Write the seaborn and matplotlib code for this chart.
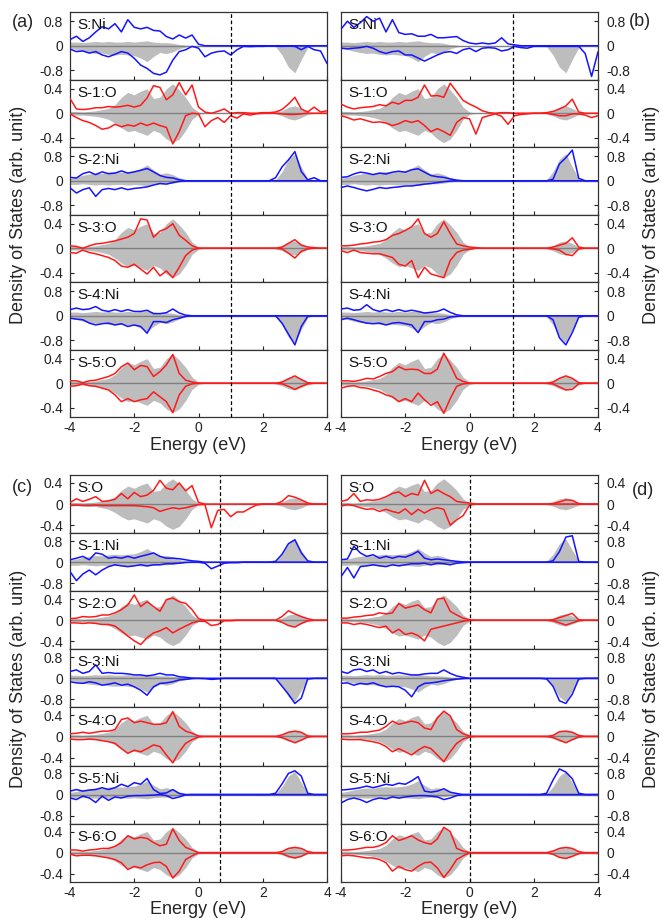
import numpy as np
import matplotlib
matplotlib.use("Agg")
import matplotlib.pyplot as plt
import seaborn as sns

# energy grid (eV), 0.2 eV steps from -4 to 4
energy = np.linspace(-4.0, 4.0, 41)

# grey reference (bulk) curves, down-spin given as magnitudes
o_bulk_up = [0.03, 0.03, 0.02, 0.03, 0.04, 0.06, 0.08, 0.14, 0.26, 0.34, 0.30,
             0.36, 0.40, 0.24, 0.26, 0.40, 0.48, 0.38, 0.26, 0.10, 0.02,
             0, 0, 0, 0, 0, 0, 0, 0, 0, 0,
             0, 0.01, 0.04, 0.10, 0.12, 0.08, 0.02, 0, 0, 0]
o_bulk_dn = [0.03, 0.03, 0.03, 0.04, 0.05, 0.07, 0.10, 0.16, 0.24, 0.30, 0.28,
             0.32, 0.36, 0.28, 0.32, 0.42, 0.48, 0.42, 0.28, 0.10, 0.02,
             0, 0, 0, 0, 0, 0, 0, 0, 0, 0,
             0, 0.01, 0.04, 0.09, 0.11, 0.07, 0.02, 0, 0, 0]
ni_bulk_maj = [0.08, 0.12, 0.18, 0.22, 0.25, 0.24, 0.28, 0.30, 0.28, 0.30, 0.32,
               0.40, 0.52, 0.35, 0.22, 0.26, 0.20, 0.10, 0.04, 0.01, 0,
               0, 0, 0, 0, 0, 0, 0, 0, 0, 0,
               0, 0.03, 0.30, 0.70, 0.88, 0.45, 0.06, 0, 0, 0]
ni_bulk_min = [0.12, 0.12, 0.10, 0.12, 0.14, 0.12, 0.14, 0.12, 0.12, 0.14, 0.12,
               0.14, 0.16, 0.12, 0.10, 0.10, 0.08, 0.04, 0.02, 0, 0,
               0, 0, 0, 0, 0, 0, 0, 0, 0, 0,
               0, 0, 0, 0, 0, 0, 0, 0, 0, 0]

# ---- panel (a) ----
a_s_ni_up = [0.20, 0.31, 0.14, 0.26, 0.45, 0.62, 0.55, 0.72, 0.45, 0.85, 0.60,
             0.55, 0.60, 0.50, 0.48, 0.30, 0.22, 0.35, 0.25, 0.35, 0.05,
             0, 0, 0, 0, 0, 0, 0, 0, 0, 0,
             0, 0, 0, 0, 0, 0, 0, 0, 0, 0]
a_s_ni_dn = [0.11, 0.19, 0.17, 0.24, 0.19, 0.30, 0.36, 0.28, 0.19, 0.24, 0.41,
             0.63, 0.74, 0.90, 0.95, 0.86, 0.47, 0.19, 0.13, 0.02, 0.08,
             0.36, 0.24, 0.19, 0.17, 0.30, 0.13, 0.02, 0.03, 0.02, 0.02,
             0.01, 0.01, 0.02, 0.01, 0.02, 0.13, 0.02, 0.13, 0.17, 0.58]
a_s1_o_up = [0.24, 0.07, 0.06, 0.07, 0.09, 0.09, 0.11, 0.10, 0.11, 0.13, 0.10,
             0.13, 0.25, 0.45, 0.42, 0.22, 0.30, 0.50, 0.30, 0.46, 0.10,
             0.02, 0.00, 0.03, 0.07, 0.00, 0.01, 0.01, 0.00, 0.00, 0.01,
             0.01, 0.02, 0.06, 0.15, 0.26, 0.07, 0.02, 0.10, 0.02, 0.04]
a_s1_o_dn = [0.01, 0.07, 0.12, 0.15, 0.20, 0.26, 0.24, 0.18, 0.22, 0.19, 0.21,
             0.16, 0.20, 0.16, 0.20, 0.23, 0.50, 0.30, 0.04, 0.00, 0.01,
             0.22, 0.12, 0.07, 0.15, 0.04, 0.08, 0.01, 0.03, 0.01, 0.00,
             0.00, 0.00, 0.01, 0.02, 0.02, 0.01, 0.00, 0.00, 0.00, 0.00]
a_s2_ni_up = [0.11, 0.09, 0.23, 0.29, 0.20, 0.29, 0.23, 0.25, 0.32, 0.25, 0.29,
              0.34, 0.40, 0.29, 0.17, 0.11, 0.09, 0.03, 0, 0, 0,
              0, 0, 0, 0, 0, 0, 0, 0, 0, 0,
              0, 0.10, 0.45, 0.68, 0.95, 0.30, 0.03, 0.10, 0, 0]
a_s2_ni_dn = [0.23, 0.40, 0.29, 0.23, 0.51, 0.29, 0.25, 0.29, 0.23, 0.29, 0.25,
              0.23, 0.20, 0.14, 0.09, 0.11, 0.06, 0.02, 0, 0, 0,
              0, 0, 0, 0, 0, 0, 0, 0, 0, 0,
              0, 0, 0, 0, 0, 0, 0, 0, 0, 0]
a_s3_o_up = [0.04, 0.03, 0.00, 0.04, 0.07, 0.08, 0.10, 0.12, 0.15, 0.18, 0.24,
             0.48, 0.46, 0.18, 0.28, 0.32, 0.40, 0.21, 0.13, 0.04, 0,
             0, 0, 0, 0, 0, 0, 0, 0, 0, 0,
             0, 0, 0.02, 0.08, 0.14, 0.05, 0.02, 0.01, 0, 0]
a_s3_o_dn = [0.07, 0.08, 0.03, 0.07, 0.09, 0.12, 0.15, 0.20, 0.29, 0.31, 0.26,
             0.34, 0.42, 0.31, 0.45, 0.37, 0.48, 0.31, 0.12, 0.03, 0,
             0, 0, 0, 0, 0, 0, 0, 0, 0, 0,
             0, 0, 0.01, 0.08, 0.16, 0.05, 0.01, 0, 0, 0]
a_s4_ni_up = [0.20, 0.25, 0.20, 0.22, 0.30, 0.18, 0.14, 0.20, 0.14, 0.20, 0.14,
              0.14, 0.18, 0.07, 0.07, 0.10, 0.22, 0.09, 0.02, 0, 0,
              0, 0, 0, 0, 0, 0, 0, 0, 0, 0,
              0, 0, 0, 0, 0, 0, 0, 0, 0, 0]
a_s4_ni_dn = [0.08, 0.11, 0.13, 0.24, 0.30, 0.26, 0.24, 0.30, 0.26, 0.35, 0.30,
              0.35, 0.57, 0.19, 0.19, 0.22, 0.13, 0.08, 0.02, 0, 0,
              0, 0, 0, 0, 0, 0, 0, 0, 0, 0,
              0, 0, 0.24, 0.60, 0.95, 0.35, 0.02, 0, 0, 0]
a_s5_o_up = [0.04, 0.04, 0.01, 0.04, 0.05, 0.08, 0.11, 0.16, 0.27, 0.33, 0.22,
             0.29, 0.27, 0.11, 0.19, 0.30, 0.47, 0.16, 0.05, 0.02, 0,
             0, 0, 0, 0, 0, 0, 0, 0, 0, 0,
             0, 0, 0.02, 0.07, 0.12, 0.06, 0.01, 0, 0, 0]
a_s5_o_dn = [0.05, 0.04, 0.01, 0.04, 0.05, 0.08, 0.11, 0.19, 0.30, 0.25, 0.30,
             0.27, 0.25, 0.14, 0.22, 0.30, 0.48, 0.19, 0.05, 0.01, 0,
             0, 0, 0, 0, 0, 0, 0, 0, 0, 0,
             0, 0, 0.01, 0.05, 0.10, 0.05, 0.01, 0, 0, 0]

# ---- panel (b) ----
b_s_ni_up = [0.54, 0.80, 0.60, 0.75, 0.95, 0.80, 0.90, 0.45, 0.85, 0.43, 0.37,
             0.39, 0.31, 0.31, 0.37, 0.26, 0.26, 0.28, 0.30, 0.17, 0.09,
             0.06, 0.09, 0.06, 0.09, 0.26, 0.06, 0.03, 0, 0, 0,
             0, 0, 0, 0, 0, 0, 0, 0, 0, 0]
b_s_ni_dn = [0.08, 0.10, 0.08, 0.06, 0.02, 0.08, 0.19, 0.25, 0.19, 0.17, 0.30,
             0.30, 0.40, 0.50, 0.40, 0.30, 0.22, 0.19, 0.25, 0.13, 0.08,
             0.19, 0.08, 0.06, 0.08, 0.17, 0.13, 0.02, 0.06, 0.08, 0.02,
             0.02, 0.02, 0.02, 0.02, 0.02, 0.02, 0.02, 0.25, 1.00, 0.20]
b_s1_o_up = [0.15, 0.10, 0.07, 0.09, 0.10, 0.11, 0.14, 0.12, 0.18, 0.15, 0.21,
             0.21, 0.26, 0.46, 0.28, 0.29, 0.26, 0.49, 0.35, 0.21, 0.15,
             0.10, 0.04, 0.01, 0, 0.01, 0.01, 0, 0, 0, 0,
             0, 0.01, 0.03, 0.07, 0.12, 0.23, 0.02, 0, 0, 0]
b_s1_o_dn = [0.04, 0.07, 0.11, 0.09, 0.12, 0.15, 0.14, 0.16, 0.20, 0.17, 0.12,
             0.15, 0.12, 0.20, 0.30, 0.25, 0.30, 0.36, 0.15, 0.07, 0.09,
             0.34, 0.07, 0.04, 0.01, 0.05, 0.18, 0.04, 0.02, 0.01, 0,
             0, 0, 0.02, 0.04, 0.04, 0.01, 0.01, 0.03, 0.07, 0.04]
b_s2_ni_up = [0.11, 0.13, 0.22, 0.28, 0.25, 0.20, 0.25, 0.22, 0.28, 0.31, 0.28,
              0.36, 0.39, 0.28, 0.17, 0.13, 0.11, 0.06, 0.02, 0, 0,
              0, 0, 0, 0, 0, 0, 0, 0, 0, 0,
              0, 0, 0.05, 0.55, 0.75, 1.00, 0.08, 0, 0, 0]
b_s2_ni_dn = [0.22, 0.17, 0.22, 0.28, 0.33, 0.28, 0.22, 0.25, 0.22, 0.20, 0.17,
              0.17, 0.14, 0.11, 0.09, 0.06, 0.03, 0.01, 0, 0, 0,
              0, 0, 0, 0, 0, 0, 0, 0, 0, 0,
              0, 0, 0, 0, 0, 0, 0, 0, 0, 0]
b_s3_o_up = [0.04, 0.04, 0.05, 0.07, 0.08, 0.10, 0.11, 0.14, 0.21, 0.24, 0.29,
             0.35, 0.48, 0.24, 0.18, 0.24, 0.43, 0.24, 0.07, 0.04, 0.02,
             0.01, 0, 0, 0, 0, 0, 0, 0, 0, 0,
             0, 0, 0.02, 0.05, 0.08, 0.17, 0.02, 0, 0, 0]
b_s3_o_dn = [0.04, 0.07, 0.03, 0.07, 0.08, 0.09, 0.09, 0.12, 0.15, 0.26, 0.29,
             0.20, 0.48, 0.31, 0.42, 0.45, 0.48, 0.20, 0.07, 0.03, 0.02,
             0, 0, 0, 0, 0, 0, 0, 0, 0, 0,
             0, 0, 0.01, 0.03, 0.10, 0.12, 0.01, 0, 0, 0]
b_s4_ni_up = [0.22, 0.25, 0.18, 0.20, 0.36, 0.20, 0.14, 0.20, 0.14, 0.20, 0.14,
              0.18, 0.14, 0.09, 0.11, 0.14, 0.22, 0.11, 0.03, 0, 0,
              0, 0, 0, 0, 0, 0, 0, 0, 0, 0,
              0, 0, 0, 0, 0, 0, 0, 0, 0, 0]
b_s4_ni_dn = [0.13, 0.08, 0.13, 0.19, 0.24, 0.26, 0.24, 0.30, 0.24, 0.22, 0.26,
              0.30, 0.55, 0.19, 0.19, 0.13, 0.11, 0.04, 0.02, 0, 0,
              0, 0, 0, 0, 0, 0, 0, 0, 0, 0,
              0, 0, 0.13, 0.72, 0.95, 0.55, 0.05, 0, 0, 0]
b_s5_o_up = [0.04, 0.04, 0.03, 0.05, 0.08, 0.07, 0.11, 0.16, 0.19, 0.27, 0.22,
             0.23, 0.22, 0.16, 0.16, 0.23, 0.49, 0.30, 0.08, 0.03, 0,
             0, 0, 0, 0, 0, 0, 0, 0, 0, 0,
             0, 0, 0.02, 0.08, 0.12, 0.08, 0.01, 0, 0, 0]
b_s5_o_dn = [0.08, 0.05, 0.04, 0.07, 0.08, 0.11, 0.14, 0.19, 0.22, 0.30, 0.25,
             0.30, 0.16, 0.27, 0.36, 0.30, 0.49, 0.25, 0.05, 0.01, 0,
             0, 0, 0, 0, 0, 0, 0, 0, 0, 0,
             0, 0, 0.01, 0.06, 0.11, 0.10, 0.01, 0, 0, 0]

# ---- panel (c) ----
c_s_o_up = [0.03, 0.10, 0.05, 0.09, 0.14, 0.05, 0.06, 0.09, 0.20, 0.10, 0.22,
            0.14, 0.17, 0.26, 0.45, 0.30, 0.27, 0.40, 0.25, 0.35, 0.03,
            0, 0, 0, 0, 0, 0, 0, 0, 0, 0,
            0, 0, 0.05, 0.16, 0.13, 0.08, 0.02, 0, 0, 0]
c_s_o_dn = [0.03, 0.02, 0.03, 0.03, 0.02, 0.03, 0.03, 0.03, 0.03, 0.03, 0.03,
            0.04, 0.05, 0.07, 0.14, 0.10, 0.07, 0.09, 0.07, 0.04, 0.01,
            0.01, 0.45, 0.12, 0.10, 0.24, 0.15, 0.15, 0.08, 0.02, 0,
            0, 0, 0, 0, 0, 0, 0, 0, 0, 0]
c_s1_ni_up = [0.09, 0.15, 0.22, 0.09, 0.35, 0.30, 0.15, 0.19, 0.15, 0.22, 0.15,
              0.22, 0.28, 0.35, 0.22, 0.15, 0.15, 0.13, 0.09, 0.05, 0.03,
              0, 0, 0, 0, 0, 0, 0, 0, 0, 0,
              0, 0.03, 0.30, 0.70, 0.85, 0.35, 0.05, 0, 0, 0]
c_s1_ni_dn = [0.36, 0.70, 0.45, 0.30, 0.48, 0.30, 0.17, 0.10, 0.14, 0.17, 0.14,
              0.10, 0.14, 0.10, 0.10, 0.06, 0.06, 0.04, 0.01, 0, 0,
              0.04, 0.25, 0.15, 0.04, 0.02, 0.02, 0, 0, 0, 0,
              0, 0, 0, 0, 0, 0, 0, 0, 0, 0]
c_s2_o_up = [0.03, 0.04, 0.07, 0.06, 0.07, 0.10, 0.10, 0.14, 0.20, 0.29, 0.48,
             0.26, 0.35, 0.26, 0.17, 0.39, 0.42, 0.35, 0.32, 0.20, 0.03,
             0, 0, 0, 0, 0, 0, 0, 0, 0, 0,
             0, 0, 0.07, 0.18, 0.12, 0.07, 0.03, 0, 0, 0]
c_s2_o_dn = [0.05, 0.05, 0.06, 0.05, 0.06, 0.08, 0.08, 0.11, 0.20, 0.30, 0.39,
             0.46, 0.33, 0.24, 0.20, 0.14, 0.24, 0.17, 0.11, 0.05, 0.02,
             0.02, 0.10, 0.08, 0.01, 0.01, 0, 0, 0, 0, 0,
             0, 0, 0.04, 0.10, 0.13, 0.06, 0.01, 0, 0, 0]
c_s3_ni_up = [0.26, 0.32, 0.19, 0.26, 0.51, 0.19, 0.22, 0.19, 0.19, 0.17, 0.13,
              0.13, 0.09, 0.13, 0.19, 0.13, 0.13, 0.06, 0.04, 0.01, 0,
              0, 0, 0, 0, 0, 0, 0, 0, 0, 0,
              0, 0, 0, 0, 0, 0, 0, 0, 0, 0]
c_s3_ni_dn = [0.13, 0.17, 0.19, 0.13, 0.17, 0.26, 0.22, 0.17, 0.26, 0.22, 0.32,
              0.45, 0.64, 0.32, 0.19, 0.17, 0.13, 0.06, 0.04, 0.01, 0,
              0.01, 0.04, 0.02, 0, 0, 0, 0, 0, 0, 0,
              0, 0, 0.30, 0.60, 0.95, 0.75, 0.02, 0, 0, 0]
c_s4_o_up = [0.05, 0.06, 0.08, 0.06, 0.08, 0.10, 0.10, 0.13, 0.32, 0.35, 0.26,
             0.29, 0.26, 0.23, 0.23, 0.26, 0.47, 0.19, 0.10, 0.06, 0.01,
             0, 0, 0, 0, 0, 0, 0, 0, 0, 0,
             0, 0, 0.03, 0.08, 0.10, 0.08, 0.01, 0, 0, 0]
c_s4_o_dn = [0.05, 0.06, 0.06, 0.05, 0.06, 0.08, 0.10, 0.13, 0.23, 0.32, 0.26,
             0.29, 0.23, 0.16, 0.19, 0.35, 0.50, 0.29, 0.13, 0.06, 0.01,
             0, 0, 0, 0, 0, 0, 0, 0, 0, 0,
             0, 0, 0.02, 0.07, 0.12, 0.07, 0.01, 0, 0, 0]
c_s5_ni_up = [0.13, 0.19, 0.13, 0.17, 0.19, 0.26, 0.19, 0.26, 0.39, 0.30, 0.45,
              0.39, 0.61, 0.19, 0.04, 0.06, 0.19, 0.04, 0, 0, 0,
              0, 0, 0, 0, 0, 0, 0, 0, 0, 0,
              0, 0.05, 0.40, 0.80, 0.90, 0.70, 0.05, 0, 0, 0]
c_s5_ni_dn = [0.13, 0.19, 0.06, 0.13, 0.30, 0.06, 0.22, 0.09, 0.13, 0.06, 0.04,
              0.04, 0.03, 0.02, 0, 0.04, 0.15, 0.09, 0.01, 0, 0,
              0, 0, 0, 0, 0, 0, 0, 0, 0, 0,
              0, 0, 0, 0, 0, 0, 0, 0, 0, 0]
c_s6_o_up = [0.05, 0.05, 0.03, 0.05, 0.06, 0.08, 0.08, 0.12, 0.19, 0.32, 0.26,
             0.29, 0.27, 0.19, 0.13, 0.16, 0.45, 0.23, 0.10, 0.05, 0,
             0, 0, 0, 0, 0, 0, 0, 0, 0, 0,
             0, 0, 0.02, 0.08, 0.10, 0.08, 0.02, 0, 0, 0]
c_s6_o_dn = [0.03, 0.06, 0.05, 0.05, 0.06, 0.08, 0.10, 0.13, 0.19, 0.32, 0.26,
             0.29, 0.23, 0.19, 0.18, 0.26, 0.48, 0.35, 0.13, 0.06, 0,
             0, 0, 0, 0, 0, 0, 0, 0, 0, 0,
             0, 0, 0.02, 0.07, 0.10, 0.07, 0.01, 0, 0, 0]

# ---- panel (d) ----
d_s_o_up = [0.05, 0.08, 0.20, 0.05, 0.08, 0.07, 0.09, 0.14, 0.20, 0.23, 0.14,
            0.20, 0.17, 0.45, 0.20, 0.27, 0.20, 0.14, 0.05, 0.03, 0.02,
            0, 0, 0, 0, 0, 0, 0, 0, 0, 0,
            0, 0, 0.01, 0.04, 0.08, 0.07, 0.01, 0, 0, 0]
d_s_o_dn = [0.04, 0.01, 0.03, 0.07, 0.10, 0.09, 0.14, 0.10, 0.14, 0.17, 0.09,
            0.20, 0.10, 0.17, 0.10, 0.07, 0.10, 0.40, 0.30, 0.22, 0.02,
            0, 0, 0, 0, 0, 0, 0, 0, 0, 0,
            0, 0, 0, 0, 0, 0, 0, 0, 0, 0]
d_s1_ni_up = [0.09, 0.12, 0.60, 0.35, 0.22, 0.28, 0.15, 0.22, 0.15, 0.22, 0.19,
              0.28, 0.41, 0.15, 0.09, 0.12, 0.09, 0.06, 0.03, 0.01, 0,
              0, 0, 0, 0, 0, 0, 0, 0, 0, 0,
              0, 0, 0.05, 0.40, 0.95, 1.00, 0.03, 0, 0, 0]
d_s1_ni_dn = [0.55, 0.20, 0.60, 0.17, 0.14, 0.10, 0.14, 0.17, 0.10, 0.14, 0.10,
              0.06, 0.06, 0.04, 0.10, 0.04, 0.06, 0.10, 0.04, 0.02, 0,
              0, 0, 0, 0, 0, 0, 0, 0, 0, 0,
              0, 0, 0, 0, 0, 0, 0, 0, 0, 0]
d_s2_o_up = [0.04, 0.04, 0.06, 0.07, 0.09, 0.10, 0.14, 0.12, 0.14, 0.32, 0.23,
             0.26, 0.29, 0.20, 0.14, 0.40, 0.42, 0.17, 0.10, 0.04, 0.01,
             0, 0, 0, 0, 0, 0, 0, 0, 0, 0,
             0, 0, 0.01, 0.05, 0.09, 0.13, 0.01, 0, 0, 0]
d_s2_o_dn = [0.05, 0.05, 0.08, 0.06, 0.08, 0.11, 0.14, 0.11, 0.24, 0.17, 0.27,
             0.24, 0.29, 0.39, 0.17, 0.14, 0.11, 0.08, 0.05, 0.02, 0,
             0, 0, 0, 0, 0, 0, 0, 0, 0, 0,
             0, 0, 0.01, 0.05, 0.09, 0.05, 0.01, 0, 0, 0]
d_s3_ni_up = [0.26, 0.19, 0.32, 0.35, 0.26, 0.32, 0.19, 0.26, 0.17, 0.22, 0.17,
              0.13, 0.13, 0.17, 0.19, 0.19, 0.32, 0.19, 0.09, 0.04, 0,
              0, 0, 0, 0, 0, 0, 0, 0, 0, 0,
              0, 0, 0, 0, 0, 0, 0, 0, 0, 0]
d_s3_ni_dn = [0.19, 0.17, 0.26, 0.19, 0.22, 0.17, 0.26, 0.32, 0.30, 0.32, 0.45,
              0.70, 0.32, 0.19, 0.17, 0.14, 0.09, 0.06, 0.03, 0.01, 0,
              0, 0, 0, 0, 0, 0, 0, 0, 0, 0,
              0, 0.02, 0.30, 0.85, 0.95, 0.60, 0.02, 0, 0, 0]
d_s4_o_up = [0.05, 0.05, 0.06, 0.08, 0.08, 0.10, 0.12, 0.19, 0.29, 0.23, 0.26,
             0.29, 0.26, 0.16, 0.13, 0.35, 0.48, 0.39, 0.13, 0.05, 0.01,
             0, 0, 0, 0, 0, 0, 0, 0, 0, 0,
             0, 0, 0.02, 0.09, 0.10, 0.08, 0.02, 0, 0, 0]
d_s4_o_dn = [0.05, 0.06, 0.06, 0.06, 0.08, 0.10, 0.13, 0.19, 0.29, 0.23, 0.29,
             0.35, 0.26, 0.19, 0.23, 0.35, 0.48, 0.29, 0.13, 0.05, 0.01,
             0, 0, 0, 0, 0, 0, 0, 0, 0, 0,
             0, 0, 0.02, 0.07, 0.12, 0.06, 0.01, 0, 0, 0]
d_s5_ni_up = [0.17, 0.19, 0.22, 0.26, 0.32, 0.26, 0.32, 0.39, 0.35, 0.43, 0.39,
              0.52, 0.68, 0.13, 0.09, 0.13, 0.22, 0.09, 0.04, 0, 0,
              0, 0, 0, 0, 0, 0, 0, 0, 0, 0,
              0, 0.05, 0.55, 0.97, 0.85, 0.60, 0.05, 0, 0, 0]
d_s5_ni_dn = [0.32, 0.19, 0.13, 0.19, 0.30, 0.19, 0.13, 0.17, 0.09, 0.13, 0.09,
              0.06, 0.04, 0.04, 0.06, 0.09, 0.19, 0.13, 0.04, 0, 0,
              0, 0, 0, 0, 0, 0, 0, 0, 0, 0,
              0, 0, 0, 0, 0, 0, 0, 0, 0, 0]
d_s6_o_up = [0.05, 0.05, 0.06, 0.08, 0.10, 0.10, 0.13, 0.19, 0.32, 0.23, 0.27,
             0.32, 0.24, 0.19, 0.16, 0.26, 0.48, 0.40, 0.08, 0.03, 0,
             0, 0, 0, 0, 0, 0, 0, 0, 0, 0,
             0, 0, 0.03, 0.08, 0.10, 0.08, 0.02, 0, 0, 0]
d_s6_o_dn = [0.06, 0.05, 0.06, 0.08, 0.10, 0.10, 0.13, 0.19, 0.35, 0.26, 0.32,
             0.35, 0.26, 0.19, 0.18, 0.29, 0.47, 0.32, 0.13, 0.06, 0,
             0, 0, 0, 0, 0, 0, 0, 0, 0, 0,
             0, 0, 0.03, 0.09, 0.11, 0.07, 0.02, 0, 0, 0]

# Fermi level positions (dashed lines)
fermi_a, fermi_b, fermi_c, fermi_d = 1.0, 1.36, 0.68, 0.0

rows_a = [("S:Ni", "ni-", a_s_ni_up, a_s_ni_dn), ("S-1:O", "o", a_s1_o_up, a_s1_o_dn),
          ("S-2:Ni", "ni+", a_s2_ni_up, a_s2_ni_dn), ("S-3:O", "o", a_s3_o_up, a_s3_o_dn),
          ("S-4:Ni", "ni-", a_s4_ni_up, a_s4_ni_dn), ("S-5:O", "o", a_s5_o_up, a_s5_o_dn)]
rows_b = [("S:Ni", "ni-", b_s_ni_up, b_s_ni_dn), ("S-1:O", "o", b_s1_o_up, b_s1_o_dn),
          ("S-2:Ni", "ni+", b_s2_ni_up, b_s2_ni_dn), ("S-3:O", "o", b_s3_o_up, b_s3_o_dn),
          ("S-4:Ni", "ni-", b_s4_ni_up, b_s4_ni_dn), ("S-5:O", "o", b_s5_o_up, b_s5_o_dn)]
rows_c = [("S:O", "o", c_s_o_up, c_s_o_dn), ("S-1:Ni", "ni+", c_s1_ni_up, c_s1_ni_dn),
          ("S-2:O", "o", c_s2_o_up, c_s2_o_dn), ("S-3:Ni", "ni-", c_s3_ni_up, c_s3_ni_dn),
          ("S-4:O", "o", c_s4_o_up, c_s4_o_dn), ("S-5:Ni", "ni+", c_s5_ni_up, c_s5_ni_dn),
          ("S-6:O", "o", c_s6_o_up, c_s6_o_dn)]
rows_d = [("S:O", "o", d_s_o_up, d_s_o_dn), ("S-1:Ni", "ni+", d_s1_ni_up, d_s1_ni_dn),
          ("S-2:O", "o", d_s2_o_up, d_s2_o_dn), ("S-3:Ni", "ni-", d_s3_ni_up, d_s3_ni_dn),
          ("S-4:O", "o", d_s4_o_up, d_s4_o_dn), ("S-5:Ni", "ni+", d_s5_ni_up, d_s5_ni_dn),
          ("S-6:O", "o", d_s6_o_up, d_s6_o_dn)]

for rows in (rows_a, rows_b, rows_c, rows_d):
    for name, _, up, dn in rows:
        if len(up) != 41 or len(dn) != 41:
            raise ValueError(f"bad length in {name}: {len(up)}, {len(dn)}")

sns.set_theme(style="ticks")
plt.rcParams["font.family"] = ["Liberation Sans", "DejaVu Sans"]
plt.rcParams["axes.unicode_minus"] = False

GREY = "#bdbdbd"
BLUE = "#1414ff"
RED = "#ff1a1a"
W, H = 660, 923

fig = plt.figure(figsize=(W / 100, H / 100), dpi=100)


def draw_panel(x0, top, row_h, rows, fermi, right):
    n = len(rows)
    for k, (name, kind, up, dn) in enumerate(rows):
        y_top = top + k * row_h
        ax = fig.add_axes([x0 / W, 1 - (y_top + row_h) / H, 257 / W, row_h / H])
        if kind == "o":
            g_up, g_dn, col, lim, yt = o_bulk_up, o_bulk_dn, RED, 0.55, [-0.4, 0, 0.4]
        elif kind == "ni+":
            g_up, g_dn, col, lim, yt = ni_bulk_maj, ni_bulk_min, BLUE, 1.1, [-0.8, 0, 0.8]
        else:
            g_up, g_dn, col, lim, yt = ni_bulk_min, ni_bulk_maj, BLUE, 1.1, [-0.8, 0, 0.8]

        ax.fill_between(energy, np.array(g_up), 0, color=GREY, lw=0, zorder=1)
        ax.fill_between(energy, -np.array(g_dn), 0, color=GREY, lw=0, zorder=1)
        ax.axhline(0, color="#808080", lw=1.0, zorder=2)
        sns.lineplot(x=energy, y=np.array(up), ax=ax, color=col, lw=1.1,
                     estimator=None, sort=False, zorder=3)
        sns.lineplot(x=energy, y=-np.array(dn), ax=ax, color=col, lw=1.1,
                     estimator=None, sort=False, zorder=3)
        ax.axvline(fermi, color="black", lw=0.9, dashes=(3, 2), zorder=4)

        ax.set_xlim(-4, 4)
        ax.set_ylim(-lim, lim)
        ax.set_xticks([-4, -2, 0, 2, 4])
        ax.set_yticks(yt)
        ax.set_yticklabels([f"{v:g}" for v in yt])
        ax.set_ylabel("")
        ax.set_xlabel("")
        for sp in ax.spines.values():
            sp.set_color("#333333")
            sp.set_linewidth(0.9)
        ax.tick_params(direction="in", length=3, width=0.8, labelsize=10,
                       colors="#222222", top=False)
        if right:
            ax.yaxis.tick_right()
            ax.tick_params(axis="y", left=False, right=True, labelleft=False,
                           labelright=True, pad=6)
        else:
            ax.tick_params(axis="y", pad=5)
        ax.annotate(name, xy=(0, 1), xycoords="axes fraction", xytext=(5.5, -9.5),
                    textcoords="offset points", ha="left", va="center", fontsize=11,
                    color="#111111", zorder=5)
        if k == n - 1:
            ax.set_xticklabels(["-4", "-2", "0", "2", "4"])
            ax.tick_params(axis="x", pad=3)
            ax.set_xlabel("Energy (eV)", fontsize=13, labelpad=1)
        else:
            ax.tick_params(axis="x", labelbottom=False)


draw_panel(70, 12, 67.5, rows_a, fermi_a, right=False)
draw_panel(341, 12, 67.5, rows_b, fermi_b, right=True)
draw_panel(70, 475, 58.1, rows_c, fermi_c, right=False)
draw_panel(341, 475, 58.1, rows_d, fermi_d, right=True)

ylab = "Density of States (arb. unit)"
fig.text(18.5 / W, 1 - 214.5 / H, ylab, rotation=90, ha="center", va="center", fontsize=13)
fig.text(651 / W, 1 - 214.5 / H, ylab, rotation=90, ha="center", va="center", fontsize=13)
fig.text(18.5 / W, 1 - 678.5 / H, ylab, rotation=90, ha="center", va="center", fontsize=13)
fig.text(651 / W, 1 - 678.5 / H, ylab, rotation=90, ha="center", va="center", fontsize=13)

fig.text(22.5 / W, 1 - 22.5 / H, "(a)", ha="center", va="center", fontsize=13)
fig.text(640 / W, 1 - 22 / H, "(b)", ha="center", va="center", fontsize=13)
fig.text(22.5 / W, 1 - 488 / H, "(c)", ha="center", va="center", fontsize=13)
fig.text(643 / W, 1 - 490 / H, "(d)", ha="center", va="center", fontsize=13)

fig.savefig("out.png", dpi=100, facecolor="white")
